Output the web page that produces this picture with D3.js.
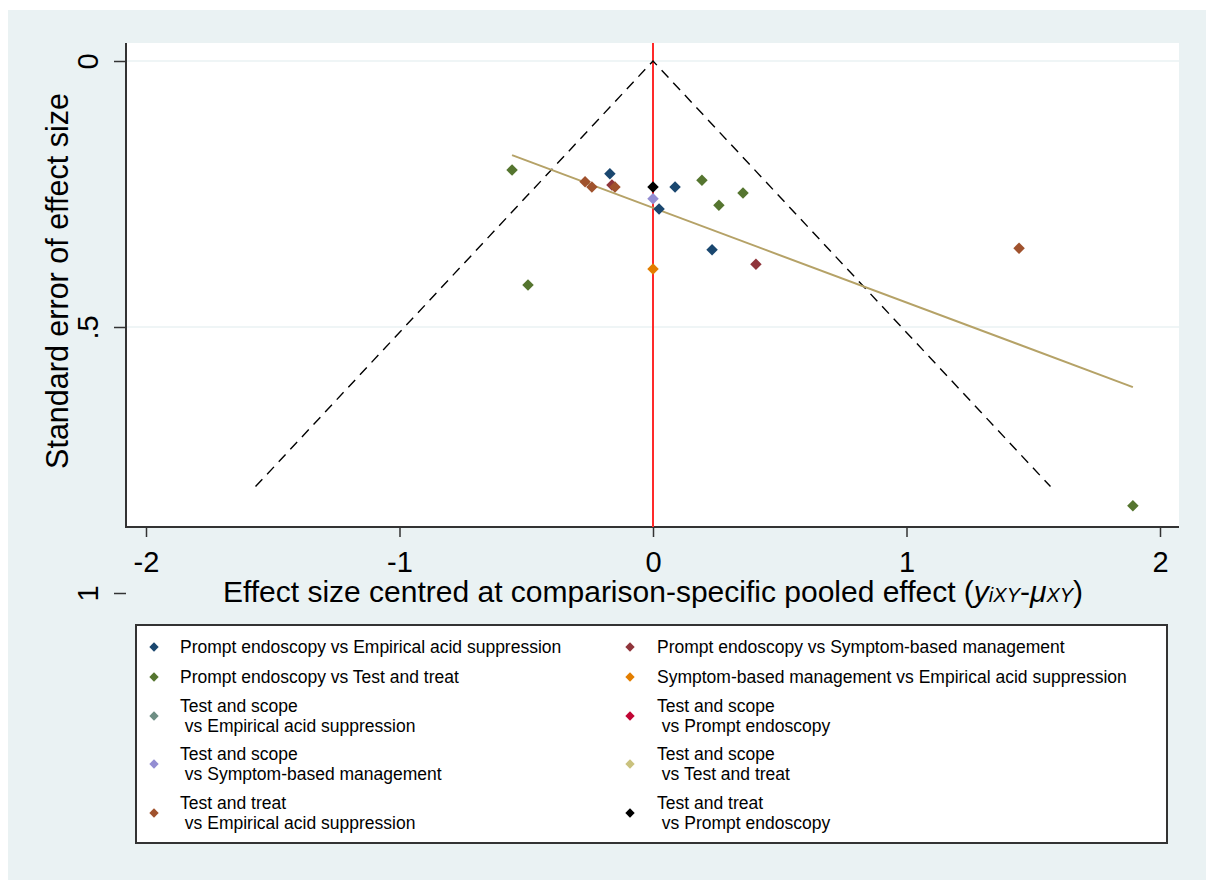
<!DOCTYPE html>
<html>
<head>
<meta charset="utf-8">
<script src="https://cdn.jsdelivr.net/npm/d3@7"></script>
<style>
  html, body { margin: 0; padding: 0; background: #ffffff; }
  svg { display: block; font-family: "Liberation Sans", Arial, sans-serif; }
</style>
</head>
<body>
<svg id="chart" width="1206" height="880"></svg>
<script>
// ---- data (x = centred effect size, se = standard error) ----
const peVsEas = [[-0.170, 0.212], [0.087, 0.237], [0.024, 0.278], [0.233, 0.355]]
const peVsSbm = [[-0.162, 0.233], [0.406, 0.382]]
const peVsTt = [[-0.556, 0.205], [-0.493, 0.421], [0.193, 0.224], [0.260, 0.271], [0.355, 0.248], [1.893, 0.836]]
const sbmVsEas = [[0.0, 0.391]]
const tsVsEas = []
const tsVsPe = []
const tsVsSbm = [[0.0, 0.259]]
const tsVsTt = []
const ttVsEas = [[-0.268, 0.227], [-0.241, 0.237], [-0.150, 0.237], [1.444, 0.352]]
const ttVsPe = [[0.0, 0.237]]

const seriesNames = [
    "Prompt endoscopy vs Empirical acid suppression",
    "Prompt endoscopy vs Symptom-based management",
    "Prompt endoscopy vs Test and treat",
    "Symptom-based management vs Empirical acid suppression",
    "Test and scope\n vs Empirical acid suppression",
    "Test and scope\n vs Prompt endoscopy",
    "Test and scope\n vs Symptom-based management",
    "Test and scope\n vs Test and treat",
    "Test and treat\n vs Empirical acid suppression",
    "Test and treat\n vs Prompt endoscopy"
]
const seriesData = [peVsEas, peVsSbm, peVsTt, sbmVsEas, tsVsEas, tsVsPe, tsVsSbm, tsVsTt, ttVsEas, ttVsPe]
const seriesColors = ["#1a476f", "#90353b", "#55752f", "#e37e00", "#6e8e84",
    "#c10534", "#938dd2", "#cac27e", "#a0522d", "#000000"]

const xTicks = [-2, -1, 0, 1, 2]
const yTicks = [0, 0.5, 1]
const yTickLabels = ["0", ".5", "1"]

// regression line of effect on se
const regIntercept = 0.276
const regSlope = 0.178
// funnel: pseudo 95% limits up to this se
const funnelMaxSe = 0.8
const zCrit = 1.96

// ---- layout ----
const svg = d3.select("#chart")
const plot = { left: 126, right: 1179, top: 43, bottom: 527 }

svg.append("rect")
    .attr("x", 8).attr("y", 10)
    .attr("width", 1198).attr("height", 870)
    .attr("fill", "#eaf2f3")

svg.append("rect")
    .attr("x", plot.left).attr("y", plot.top)
    .attr("width", plot.right - plot.left).attr("height", plot.bottom - plot.top)
    .attr("fill", "#ffffff")

let xScale = d3.scaleLinear().domain([-2, 2]).range([146, 1160])
let yScale = d3.scaleLinear().domain([0, 1]).range([61, 593])

// gridlines
svg.append("g")
    .selectAll("line")
    .data(yTicks.filter(function (d) { return yScale(d) < plot.bottom }))
    .enter().append("line")
    .attr("x1", plot.left).attr("x2", plot.right)
    .attr("y1", function (d) { return yScale(d) })
    .attr("y2", function (d) { return yScale(d) })
    .attr("stroke", "#eaf2f3")
    .attr("stroke-width", 1.5)

// x axis
let xAxis = svg.append("g")
    .attr("transform", "translate(0," + plot.bottom + ")")
    .call(d3.axisBottom(xScale).tickValues(xTicks).tickSize(10).tickPadding(14)
        .tickFormat(function (d) { return d < 0 ? "-" + Math.abs(d) : String(d) }))
xAxis.select(".domain").remove()
xAxis.selectAll(".tick line").attr("stroke", "#333").attr("stroke-width", 1.5)
xAxis.selectAll(".tick text")
    .attr("font-size", "29px").attr("fill", "#000")
    .attr("font-family", "Liberation Sans, Arial, sans-serif")

// y axis
let yAxis = svg.append("g")
    .attr("transform", "translate(" + plot.left + ",0)")
    .call(d3.axisLeft(yScale).tickValues(yTicks).tickSize(12)
        .tickFormat(function (d, i) { return yTickLabels[i] }))
yAxis.select(".domain").remove()
yAxis.selectAll(".tick line").attr("stroke", "#333").attr("stroke-width", 1.5)
yAxis.selectAll(".tick text")
    .attr("font-size", "29px").attr("fill", "#000")
    .attr("font-family", "Liberation Sans, Arial, sans-serif")
    .attr("x", null).attr("dy", null)
    .attr("text-anchor", "middle")
    .attr("dominant-baseline", "central")
    .attr("transform", "translate(-38,0) rotate(-90)")

// axis lines
svg.append("line")
    .attr("x1", plot.left).attr("x2", plot.left)
    .attr("y1", plot.top).attr("y2", plot.bottom + 1)
    .attr("stroke", "#333").attr("stroke-width", 2)
svg.append("line")
    .attr("x1", plot.left).attr("x2", plot.right)
    .attr("y1", plot.bottom).attr("y2", plot.bottom)
    .attr("stroke", "#333").attr("stroke-width", 2)

// reference line at zero
svg.append("line")
    .attr("x1", xScale(0)).attr("x2", xScale(0))
    .attr("y1", plot.top).attr("y2", plot.bottom)
    .attr("stroke", "#ff2a2a").attr("stroke-width", 2)

// funnel
let funnelPts = [[-zCrit * funnelMaxSe, funnelMaxSe], [0, 0], [zCrit * funnelMaxSe, funnelMaxSe]]
svg.append("path")
    .attr("d", d3.line()
        .x(function (d) { return xScale(d[0]) })
        .y(function (d) { return yScale(d[1]) })(funnelPts))
    .attr("fill", "none")
    .attr("stroke", "#000")
    .attr("stroke-width", 1.4)
    .attr("stroke-dasharray", "10,7")

// regression line over data extent
let allX = [].concat.apply([], seriesData).map(function (d) { return d[0] })
let xExt = d3.extent(allX)
svg.append("line")
    .attr("x1", xScale(xExt[0])).attr("y1", yScale(regIntercept + regSlope * xExt[0]))
    .attr("x2", xScale(xExt[1])).attr("y2", yScale(regIntercept + regSlope * xExt[1]))
    .attr("stroke", "#b5a267").attr("stroke-width", 2)

// points
let bigDiamond = d3.symbol().type(d3.symbolSquare).size(66)
seriesData.forEach(function (pts, i) {
    svg.append("g")
        .attr("fill", seriesColors[i])
        .selectAll("path")
        .data(pts)
        .enter().append("path")
        .attr("d", bigDiamond)
        .attr("transform", function (d) {
            return "translate(" + xScale(d[0]) + "," + yScale(d[1]) + ") rotate(45)"
        })
})

// axis titles
svg.append("text")
    .attr("x", 653).attr("y", 602)
    .attr("text-anchor", "middle")
    .attr("font-size", "30px")
    .attr("fill", "#000")
    .call(function (t) {
        t.append("tspan").text("Effect size centred at comparison-specific pooled effect (")
        t.append("tspan").attr("font-style", "italic").text("y")
        t.append("tspan").attr("font-style", "italic").attr("font-size", "20px").text("iXY")
        t.append("tspan").text("-")
        t.append("tspan").attr("font-style", "italic").text("\u03bc")
        t.append("tspan").attr("font-style", "italic").attr("font-size", "20px").text("XY")
        t.append("tspan").text(")")
    })

svg.append("text")
    .attr("transform", "translate(57,281) rotate(-90)")
    .attr("text-anchor", "middle")
    .attr("dominant-baseline", "central")
    .attr("font-size", "30.5px")
    .attr("fill", "#000")
    .text("Standard error of effect size")

// legend
svg.append("rect")
    .attr("x", 136).attr("y", 625)
    .attr("width", 1031).attr("height", 218)
    .attr("fill", "#ffffff")
    .attr("stroke", "#333").attr("stroke-width", 2)

let rowY = [647, 677, 716, 764, 813]
let colMarkX = [154, 630]
let colTextX = [180, 657]
let smallDiamond = d3.symbol().type(d3.symbolSquare).size(44)
let legend = svg.append("g")
seriesNames.forEach(function (name, i) {
    let col = i % 2
    let row = Math.floor(i / 2)
    let cy = rowY[row]
    legend.append("path")
        .attr("d", smallDiamond)
        .attr("fill", seriesColors[i])
        .attr("transform", "translate(" + colMarkX[col] + "," + cy + ") rotate(45)")
    let lines = name.split("\n")
    let lineH = 20.5
    lines.forEach(function (ln, j) {
        legend.append("text")
            .attr("font-size", "17.5px")
            .attr("fill", "#000")
            .style("white-space", "pre")
            .attr("dominant-baseline", "central")
            .attr("x", colTextX[col])
            .attr("y", cy + (j - (lines.length - 1) / 2) * lineH)
            .text(ln)
    })
})
</script>
</body>
</html>
